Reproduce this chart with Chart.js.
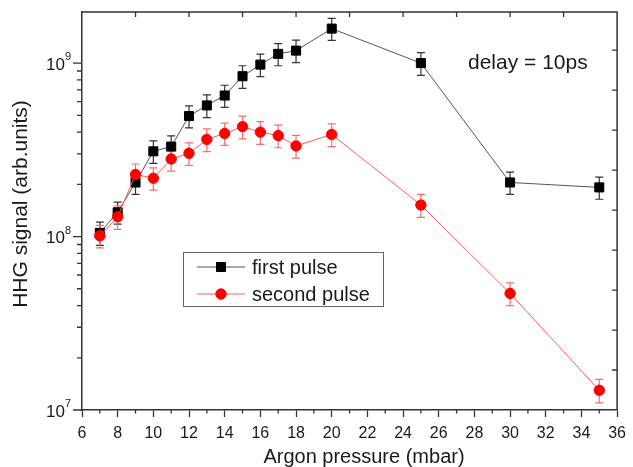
<!DOCTYPE html>
<html lang="en">
<head>
<meta charset="UTF-8">
<title>HHG signal vs argon pressure</title>
<script src="https://cdn.jsdelivr.net/npm/chart.js"></script>
<style>
    body { margin: 0; background: #fff; }
    #wrap { position: relative; width: 633px; height: 467px; }
</style>
</head>
<body>
<div id="wrap"><canvas id="hhg"></canvas></div>
<script>
// values
const pressure = [7, 8, 9, 10, 11, 12, 13, 14, 15, 16, 17, 18, 20, 25, 30, 35];
const firstPulse = [1.05e8, 1.38e8, 2.05e8, 3.1e8, 3.3e8, 4.95e8, 5.7e8, 6.5e8, 8.4e8, 9.8e8, 1.13e9, 1.18e9, 1.58e9, 1.0e9, 2.05e8, 1.92e8];
const firstErr = [0.16e8, 0.2e8, 0.3e8, 0.46e8, 0.5e8, 0.72e8, 0.85e8, 0.95e8, 1.25e8, 1.45e8, 1.65e8, 1.75e8, 2.3e8, 1.5e8, 0.3e8, 0.28e8];
const secondPulse = [1.01e8, 1.3e8, 2.28e8, 2.17e8, 2.8e8, 3.02e8, 3.63e8, 3.93e8, 4.3e8, 4.0e8, 3.82e8, 3.33e8, 3.88e8, 1.52e8, 4.7e7, 1.3e7];
const secondErr = [0.15e8, 0.2e8, 0.34e8, 0.32e8, 0.42e8, 0.45e8, 0.54e8, 0.58e8, 0.64e8, 0.6e8, 0.57e8, 0.5e8, 0.58e8, 0.23e8, 0.7e7, 0.2e7];

const xTicks = [6, 8, 10, 12, 14, 16, 18, 20, 22, 24, 26, 28, 30, 32, 34, 36];
const xMinorTicks = [7, 9, 11, 13, 15, 17, 19, 21, 23, 25, 27, 29, 31, 33, 35];
const xTopTicks = [9, 12, 15, 18, 21, 24, 27, 30, 33];
const yDecades = [1e7, 1e8, 1e9];
const yRightStep = 0.2305; // right axis ticks, in decades

const fontFam = '"Liberation Sans", Arial, sans-serif';
const axisColor = '#333';
const textColor = '#1a1a1a';

const decor = {
    id: 'decor',
    beforeDatasetsDraw(chart) {
        const ctx = chart.ctx, x = chart.scales.x, y = chart.scales.y;
        const bars = [[firstPulse, firstErr, '#333'], [secondPulse, secondErr, '#ff6b6b']];
        ctx.save();
        ctx.lineWidth = 1.2;
        bars.forEach(([vals, errs, col]) => {
            ctx.strokeStyle = col;
            vals.forEach((v, i) => {
                const px = x.getPixelForValue(pressure[i]);
                const top = y.getPixelForValue(v + errs[i]);
                const bot = y.getPixelForValue(v - errs[i]);
                ctx.beginPath();
                ctx.moveTo(px, top); ctx.lineTo(px, bot);
                ctx.moveTo(px - 4, top); ctx.lineTo(px + 4, top);
                ctx.moveTo(px - 4, bot); ctx.lineTo(px + 4, bot);
                ctx.stroke();
            });
        });
        ctx.restore();
    },
    afterDraw(chart) {
        const ctx = chart.ctx, x = chart.scales.x, y = chart.scales.y;
        const a = chart.chartArea;
        ctx.save();
        ctx.strokeStyle = axisColor;

        // frame top and right
        ctx.lineWidth = 1.5;
        ctx.beginPath();
        ctx.moveTo(a.left, a.top); ctx.lineTo(a.right, a.top); ctx.lineTo(a.right, a.bottom);
        ctx.stroke();

        ctx.lineWidth = 1.3;
        ctx.beginPath();
        // x minor ticks (outward)
        xMinorTicks.forEach(v => {
            const px = x.getPixelForValue(v);
            ctx.moveTo(px, a.bottom); ctx.lineTo(px, a.bottom + 3.5);
        });
        // top ticks (inward)
        xTopTicks.forEach(v => {
            const px = x.getPixelForValue(v);
            ctx.moveTo(px, a.top); ctx.lineTo(px, a.top + 5);
        });
        // left ticks
        yDecades.forEach(d => {
            const py = y.getPixelForValue(d);
            ctx.moveTo(a.left - 9, py); ctx.lineTo(a.left, py);
            for (let m = 2; m <= 9; m++) {
                const v = m * d;
                if (v > y.max) break;
                const pm = y.getPixelForValue(v);
                ctx.moveTo(a.left - 5, pm); ctx.lineTo(a.left, pm);
            }
        });
        // right ticks (inward)
        const lmin = Math.log10(y.min), lmax = Math.log10(y.max);
        for (let l = lmin + yRightStep; l < lmax - 0.05; l += yRightStep) {
            const py = y.getPixelForValue(Math.pow(10, l));
            ctx.moveTo(a.right - 5, py); ctx.lineTo(a.right, py);
        }
        ctx.stroke();

        // y labels 10^n
        ctx.fillStyle = textColor;
        yDecades.forEach(d => {
            const py = y.getPixelForValue(d);
            const exp = String(Math.round(Math.log10(d)));
            ctx.font = '11px ' + fontFam;
            ctx.textAlign = 'right';
            ctx.textBaseline = 'middle';
            const ew = ctx.measureText(exp).width;
            ctx.fillText(exp, 71, py - 6);
            ctx.font = '17px ' + fontFam;
            ctx.fillText('10', 71 - ew, py + 2);
        });

        // axis titles
        ctx.textAlign = 'center';
        ctx.textBaseline = 'middle';
        ctx.font = '20px ' + fontFam;
        ctx.fillText('Argon pressure (mbar)', 364, 457);
        ctx.save();
        ctx.translate(21, 204);
        ctx.rotate(-Math.PI / 2);
        ctx.font = '21px ' + fontFam;
        ctx.fillText('HHG signal (arb.units)', 0, 0);
        ctx.restore();

        // annotation
        ctx.textAlign = 'left';
        ctx.font = '21px ' + fontFam;
        ctx.fillText('delay = 10ps', 468, 63);

        // legend
        ctx.strokeStyle = '#666';
        ctx.lineWidth = 1;
        ctx.strokeRect(183.5, 252.5, 200, 54);
        const rows = [267, 294];
        chart.data.datasets.forEach((ds, i) => {
            const ly = rows[i];
            ctx.strokeStyle = ds.borderColor;
            ctx.lineWidth = ds.borderWidth;
            ctx.beginPath();
            ctx.moveTo(197, ly); ctx.lineTo(245, ly);
            ctx.stroke();
            ctx.fillStyle = ds.pointBackgroundColor;
            ctx.strokeStyle = ds.pointBorderColor;
            Chart.helpers.drawPoint(ctx, {
                pointStyle: ds.pointStyle, radius: ds.pointRadius,
                borderWidth: 1, rotation: 0
            }, 221, ly);
            ctx.fillStyle = textColor;
            ctx.font = '20px ' + fontFam;
            ctx.fillText(ds.label, 252, ly + 1);
        });
        ctx.restore();
    }
};

new Chart(document.getElementById('hhg'), {
    type: 'line',
    data: {
        datasets: [
            {
                label: 'first pulse',
                data: pressure.map((p, i) => ({ x: p, y: firstPulse[i] })),
                borderColor: '#555',
                borderWidth: 1,
                pointStyle: 'rect',
                pointRadius: 6.4,
                pointBackgroundColor: '#000',
                pointBorderColor: '#000',
                pointBorderWidth: 1,
                order: 1
            },
            {
                label: 'second pulse',
                data: pressure.map((p, i) => ({ x: p, y: secondPulse[i] })),
                borderColor: '#ff5a5a',
                borderWidth: 1,
                pointStyle: 'circle',
                pointRadius: 5.2,
                pointBackgroundColor: '#ff0000',
                pointBorderColor: '#ff0000',
                pointBorderWidth: 1,
                order: 0
            }
        ]
    },
    options: {
        responsive: true,
        maintainAspectRatio: false,
        animation: false,
        layout: { padding: { top: 12, right: 11, left: 0, bottom: 0 } },
        plugins: { legend: { display: false }, tooltip: { enabled: false } },
        scales: {
            x: {
                type: 'linear',
                min: 6,
                max: 36,
                afterBuildTicks: s => { s.ticks = xTicks.map(v => ({ value: v })); },
                ticks: { font: { family: fontFam, size: 16 }, color: textColor, padding: 7, maxRotation: 0, autoSkip: false },
                grid: { display: true, drawOnChartArea: false, drawTicks: true, tickLength: 7, color: axisColor, tickWidth: 1.3 },
                border: { display: true, color: axisColor, width: 1.5 },
                afterFit: s => { s.height = 57; }
            },
            y: {
                type: 'logarithmic',
                min: 1e7,
                max: 1.97e9,
                ticks: { display: false },
                grid: { display: false },
                border: { display: true, color: axisColor, width: 1.5 },
                afterFit: s => { s.width = 82; }
            }
        }
    },
    plugins: [decor]
});
</script>
</body>
</html>
